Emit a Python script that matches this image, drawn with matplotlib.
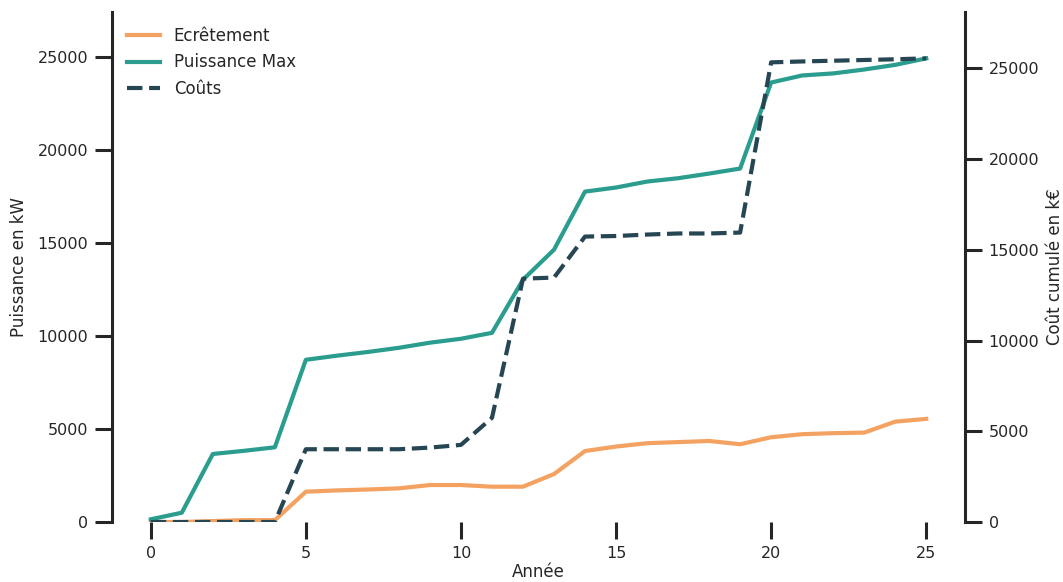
import matplotlib
matplotlib.use("Agg")
import matplotlib.pyplot as plt

annees = list(range(26))
ecretement = [0, 0, 50, 100, 100, 1630, 1700, 1750, 1810, 1990, 1990, 1900, 1900,
              2580, 3820, 4060, 4240, 4300, 4360, 4185, 4560, 4725, 4780, 4810, 5400, 5550]
puissance_max = [145, 500, 3660, 3830, 4020, 8730, 8950, 9150, 9375, 9650, 9860, 10180,
                 13040, 14655, 17780, 18000, 18320, 18500, 18750, 19020, 23650, 24030,
                 24140, 24350, 24600, 24950]
couts = [0, 0, 0, 0, 0, 4010, 4010, 4010, 4010, 4100, 4250, 5740, 13410, 13470, 15730,
         15760, 15840, 15900, 15900, 15950, 25330, 25380, 25420, 25460, 25500, 25550]

c_orange = "#f4a261"
c_teal = "#2a9d8f"
c_dark = "#264653"
txt = "#262626"

plt.rcParams['font.family'] = ['DejaVu Sans']
plt.rcParams['text.color'] = txt
plt.rcParams['axes.labelcolor'] = txt
plt.rcParams['xtick.color'] = txt
plt.rcParams['ytick.color'] = txt

fig = plt.figure(figsize=(10.63, 5.82), dpi=100)
ax1 = fig.add_axes([112/1063, 1-522/582, (965-112)/1063, (522-12)/582])
ax2 = ax1.twinx()

lw = 3.0
l1, = ax1.plot(annees, ecretement, color=c_orange, lw=lw, label="Ecrêtement")
l2, = ax1.plot(annees, puissance_max, color=c_teal, lw=lw, label="Puissance Max")
l3, = ax2.plot(annees, couts, color=c_dark, lw=lw, ls="--", label="Coûts")

ax1.set_ylim(0, max(puissance_max) * 1.1)
ax2.set_ylim(0, max(couts) * 1.1)
ax1.set_xlim(-1.25, 26.25)
ax1.set_xticks([0, 5, 10, 15, 20, 25])
ax1.set_yticks([0, 5000, 10000, 15000, 20000, 25000])
ax2.set_yticks([0, 5000, 10000, 15000, 20000, 25000])

for ax in (ax1, ax2):
    for s in ('top', 'bottom'):
        ax.spines[s].set_visible(False)
    ax.tick_params(axis='both', which='major', length=12, width=2.2, labelsize=11.5,
                   pad=5, color="#262626")
ax1.spines['right'].set_visible(False)
ax2.spines['left'].set_visible(False)
ax1.spines['left'].set_linewidth(2.2)
ax1.spines['left'].set_color("#262626")
ax2.spines['right'].set_linewidth(2.2)
ax2.spines['right'].set_color("#262626")

ax1.set_xlabel("Année", fontsize=12, labelpad=2)
ax1.set_ylabel("Puissance en kW", fontsize=12, labelpad=7)
ax2.set_ylabel("Coût cumulé en k€", fontsize=12, labelpad=5)

ax2.legend(handles=[l1, l2, l3], loc="upper left", frameon=False, fontsize=12,
           bbox_to_anchor=(0.0, 1.0), borderaxespad=0.5, handlelength=2.0)

fig.savefig("out.png", dpi=100)
